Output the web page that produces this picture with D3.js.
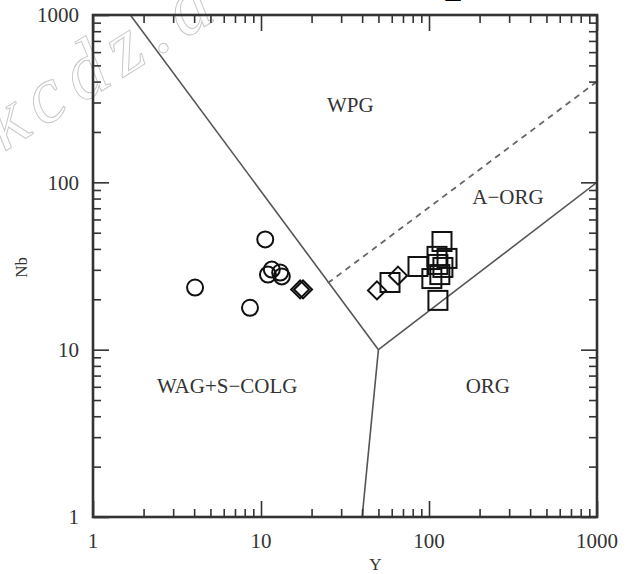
<!DOCTYPE html>
<html>
<head>
<meta charset="utf-8">
<script src="https://cdn.jsdelivr.net/npm/d3@7"></script>
<style>
    body { margin: 0; background: #fff; }
    text { font-family: "Liberation Serif", "DejaVu Serif", serif; fill: #333; }
</style>
</head>
<body>
<svg id="chart" width="627" height="574"></svg>
<script>
// samples (Y, Nb in ppm)
const circles = [
    [10.6, 45.6], [4.05, 23.5], [8.6, 17.8], [11.0, 28.1],
    [11.6, 30.1], [13.0, 28.9], [13.3, 27.4]
];
const diamonds = [
    [17.1, 22.9], [17.8, 22.9], [49, 22.6], [65.4, 27.7]
];
const squares = [
    [119.5, 44.3], [86, 31.4], [128, 35.1], [111.6, 36.1], [104, 26.6],
    [116, 28.1], [113, 32.3], [113, 19.7], [121, 31.0], [58.6, 25.2]
];

// field boundaries (Pearce et al. 1984)
const solidLines = [
    [[1, 2000], [50, 10]],
    [[50, 10], [1000, 100]],
    [[50, 10], [40, 1]]
];
const dashedLine = [[25, 25], [1000, 400]];

const fieldLabels = [
    { name: 'WPG', x: 34, y: 262 },
    { name: 'A\u2212ORG', x: 295, y: 74 },
    { name: 'WAG+S\u2212COLG', x: 6.3, y: 5.5 },
    { name: 'ORG', x: 224, y: 5.5 }
];

const majorTicks = [1, 10, 100, 1000];

const svg = d3.select('#chart');
const margin = { top: 15, right: 30, bottom: 57, left: 93 };
const width = 627 - margin.left - margin.right;
const height = 574 - margin.top - margin.bottom;

const x = d3.scaleLog().domain([1, 1000]).range([0, width]);
const y = d3.scaleLog().domain([1, 1000]).range([height, 0]);

// minor ticks: 2..9 of every decade
const minorTicks = [];
[1, 10, 100].forEach((d) => {
    for (let k = 2; k <= 9; k += 1) minorTicks.push(d * k);
});

// watermark
svg.append('text')
    .attr('transform', 'translate(4,152) rotate(-32)')
    .attr('font-size', 80)
    .attr('font-style', 'italic')
    .attr('letter-spacing', 10)
    .style('fill', 'none')
    .attr('stroke', '#c8c8c8')
    .attr('stroke-width', 1)
    .text('kcdz.a');

const g = svg.append('g')
    .attr('transform', `translate(${margin.left},${margin.top})`);

g.append('clipPath').attr('id', 'plot-clip')
    .append('rect').attr('width', width).attr('height', height);

const line = d3.line().x(d => x(d[0])).y(d => y(d[1]));

const lines = g.append('g').attr('clip-path', 'url(#plot-clip)');
lines.selectAll('.boundary')
    .data(solidLines)
    .enter()
    .append('path')
    .attr('class', 'boundary')
    .attr('d', line)
    .attr('fill', 'none')
    .attr('stroke', '#555')
    .attr('stroke-width', 1.6);

lines.append('path')
    .attr('d', line(dashedLine))
    .attr('fill', 'none')
    .attr('stroke', '#666')
    .attr('stroke-width', 1.8)
    .attr('stroke-dasharray', '6,5');

// axes, ticks pointing inward on all four sides
function tickAxis(axis, values, size) {
    return axis.tickValues(values).tickSize(size).tickSizeOuter(0).tickFormat('');
}

const axes = [
    { make: () => d3.axisBottom(x), tr: `translate(0,${height})` },
    { make: () => d3.axisTop(x), tr: 'translate(0,0)' },
    { make: () => d3.axisLeft(y), tr: 'translate(0,0)' },
    { make: () => d3.axisRight(y), tr: `translate(${width},0)` }
];
axes.forEach((a) => {
    g.append('g').attr('transform', a.tr)
        .call(tickAxis(a.make(), minorTicks, -8));
    g.append('g').attr('transform', a.tr)
        .call(tickAxis(a.make(), majorTicks, -16));
});
g.selectAll('.tick line').attr('stroke', '#333').attr('stroke-width', 1.6);
g.selectAll('.domain').remove();

// frame
g.append('rect')
    .attr('width', width)
    .attr('height', height)
    .attr('fill', 'none')
    .attr('stroke', '#333')
    .attr('stroke-width', 2.6);

// tick labels
g.selectAll('.xlab')
    .data(majorTicks)
    .enter()
    .append('text')
    .attr('class', 'xlab')
    .attr('x', d => x(d))
    .attr('y', height + 31)
    .attr('text-anchor', 'middle')
    .attr('font-size', 21)
    .text(d => d);

g.selectAll('.ylab')
    .data(majorTicks)
    .enter()
    .append('text')
    .attr('class', 'ylab')
    .attr('x', -14)
    .attr('y', d => y(d))
    .attr('dy', '0.35em')
    .attr('text-anchor', 'end')
    .attr('font-size', 21)
    .text(d => d);

// axis titles
g.append('text')
    .attr('x', x(48))
    .attr('y', height + 53)
    .attr('text-anchor', 'middle')
    .attr('font-size', 17)
    .text('Y');

g.append('text')
    .attr('transform', `translate(-66,${y(31)}) rotate(-90)`)
    .attr('text-anchor', 'middle')
    .attr('font-size', 17)
    .text('Nb');

// field labels
g.selectAll('.field')
    .data(fieldLabels)
    .enter()
    .append('text')
    .attr('class', 'field')
    .attr('x', d => x(d.x))
    .attr('y', d => y(d.y))
    .attr('text-anchor', 'middle')
    .attr('font-size', 21)
    .text(d => d.name);

// symbols
const marks = g.append('g')
    .attr('fill', 'none')
    .attr('stroke', '#111')
    .attr('stroke-width', 2);

marks.selectAll('circle')
    .data(circles)
    .enter()
    .append('circle')
    .attr('cx', d => x(d[0]))
    .attr('cy', d => y(d[1]))
    .attr('r', 8);

marks.selectAll('.sq')
    .data(squares)
    .enter()
    .append('rect')
    .attr('class', 'sq')
    .attr('x', d => x(d[0]) - 9.5)
    .attr('y', d => y(d[1]) - 9.5)
    .attr('width', 19)
    .attr('height', 19);

marks.selectAll('.dm')
    .data(diamonds)
    .enter()
    .append('path')
    .attr('class', 'dm')
    .attr('transform', d => `translate(${x(d[0])},${y(d[1])})`)
    .attr('d', 'M0,-9L9,0L0,9L-9,0Z');

// clipped title remnant at the top edge
svg.append('text')
    .attr('x', 453)
    .attr('y', -3)
    .attr('text-anchor', 'middle')
    .attr('font-size', 30)
    .attr('font-weight', 'bold')
    .style('fill', '#000')
    .text('_');
</script>
</body>
</html>
